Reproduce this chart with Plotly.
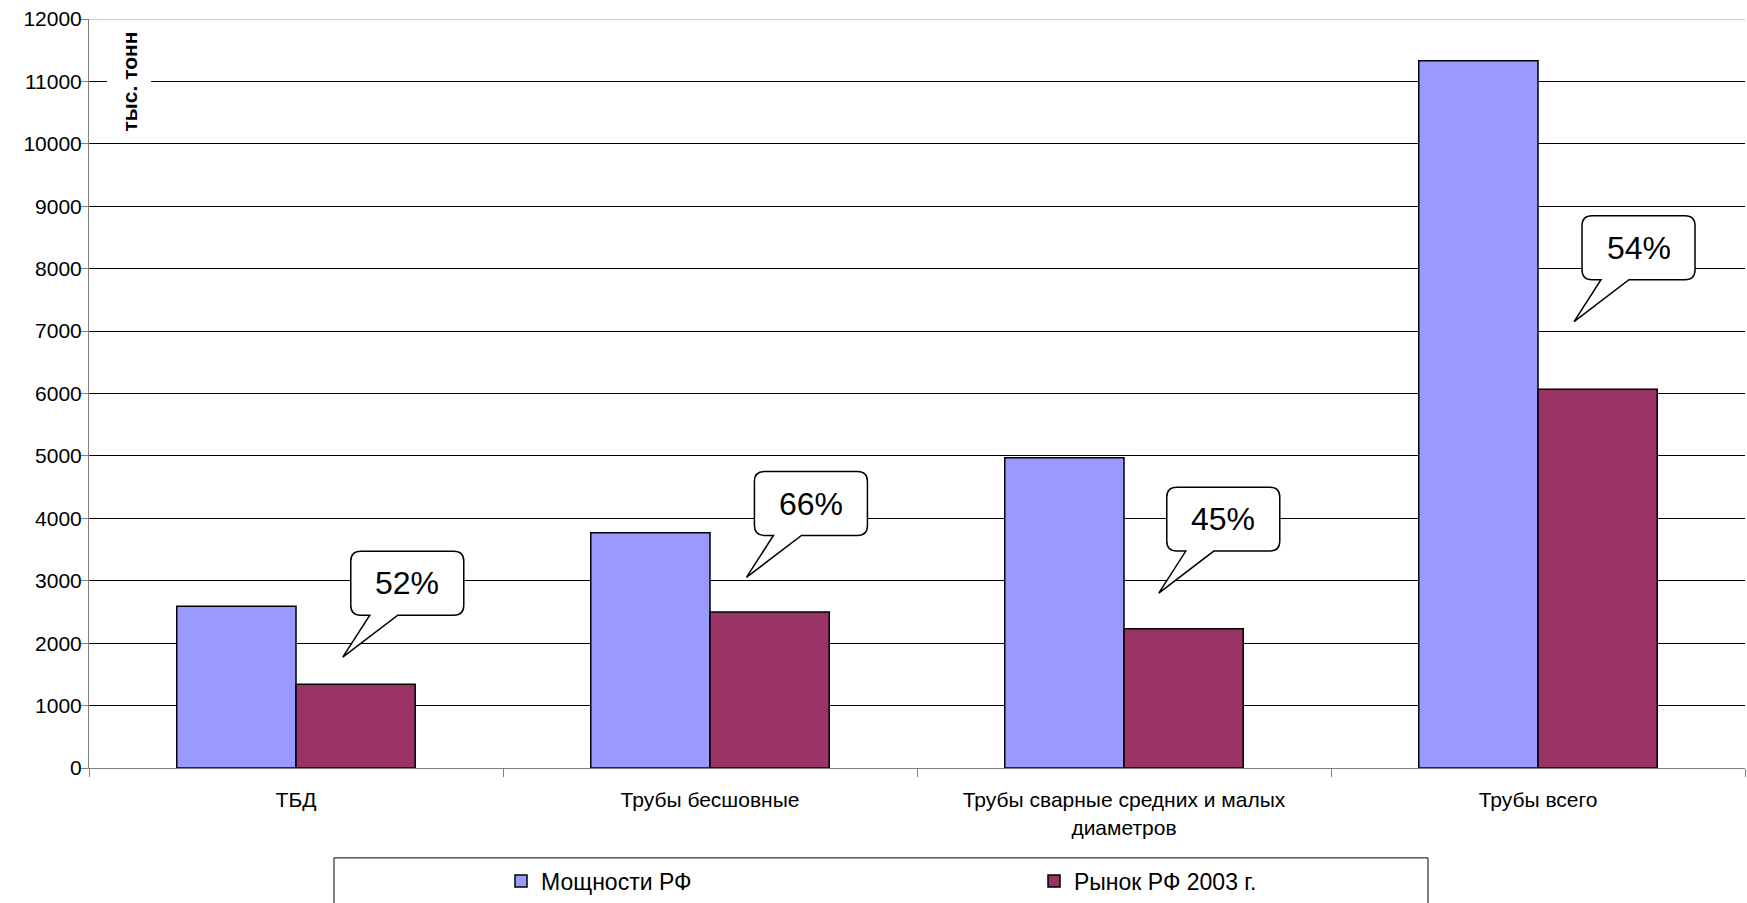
import plotly.graph_objects as go

# ---- data ----
categories = ["ТБД", "Трубы бесшовные", "Трубы сварные средних и малых<br>диаметров", "Трубы всего"]
capacity = [2590, 3770, 4970, 11330]          # Мощности РФ
market = [1340, 2500, 2230, 6070]             # Рынок РФ 2003 г.
series_names = ["Мощности РФ", "Рынок РФ 2003 г."]
y_ticks = list(range(0, 12001, 1000))

# callout tail tip positions (category index offset, data y)
callout_x = [0.113, 1.088, 2.084, 3.087]
callout_y = [1776, 3053, 2803, 7152]
callout_text = [f"{round(m / c * 100)}%" for m, c in zip(market, capacity)]

# ---- layout constants ----
W, H = 1747, 903
ML, MR, MT, MB = 89, 2, 19, 134
PW, PH = W - ML - MR, H - MT - MB
YMAX = 12000
NCAT = len(categories)
ux = NCAT / PW       # category units per px
uy = YMAX / PH       # data units per px

FONT = "Arial, Liberation Sans, sans-serif"
BLUE = "#9999FF"
RED = "#993366"

fig = go.Figure()
fig.add_trace(go.Bar(x=categories, y=capacity, name=series_names[0],
                     marker=dict(color=BLUE, line=dict(color="#000000", width=1.5))))
fig.add_trace(go.Bar(x=categories, y=market, name=series_names[1],
                     marker=dict(color=RED, line=dict(color="#000000", width=1.5))))

shapes = []
annotations = []


def callout_path(tx, ty):
    x0, x1 = tx + 8 * ux, tx + 121 * ux
    y0, y1 = ty + 42 * uy, ty + 106 * uy
    bx0, bx1 = tx + 27 * ux, tx + 55 * ux
    rx, ry = 10 * ux, 10 * uy
    pts = [
        f"M{bx1},{y0}",
        f"L{x1 - rx},{y0}", f"Q{x1},{y0} {x1},{y0 + ry}",
        f"L{x1},{y1 - ry}", f"Q{x1},{y1} {x1 - rx},{y1}",
        f"L{x0 + rx},{y1}", f"Q{x0},{y1} {x0},{y1 - ry}",
        f"L{x0},{y0 + ry}", f"Q{x0},{y0} {x0 + rx},{y0}",
        f"L{bx0},{y0}", f"L{tx},{ty}", "Z",
    ]
    return " ".join(pts), (x0 + x1) / 2, (y0 + y1) / 2


for tx, ty, txt in zip(callout_x, callout_y, callout_text):
    path, cx, cy = callout_path(tx, ty)
    shapes.append(dict(type="path", path=path, xref="x", yref="y",
                       fillcolor="#FFFFFF", line=dict(color="#000000", width=1.5),
                       layer="above"))
    annotations.append(dict(x=cx, y=cy, xref="x", yref="y", text=txt, showarrow=False,
                            font=dict(family=FONT, size=32, color="#000000"),
                            xanchor="center", yanchor="middle"))

# top border line at 12000 (light grey)
shapes.append(dict(type="line", xref="paper", yref="y", x0=0, x1=1, y0=YMAX, y1=YMAX,
                   line=dict(color="#C0C0C0", width=1.5), layer="above"))

# legend frame
shapes.append(dict(type="rect", xref="paper", yref="paper",
                   x0=(334 - ML) / PW, x1=(1428 - ML) / PW,
                   y0=-(H - MT - PH + 40) / PH, y1=-(859 - MT - PH) / PH,
                   line=dict(color="#000000", width=1), fillcolor="rgba(0,0,0,0)"))

# unit label
annotations.append(dict(x=(129 - ML) / PW, y=11000, xref="paper", yref="y",
                        text="<b>тыс. тонн</b>", textangle=-90, showarrow=False,
                        font=dict(family=FONT, size=21, color="#000000"),
                        bgcolor="#FFFFFF", borderpad=10,
                        xanchor="center", yanchor="middle"))

fig.update_layout(
    width=W, height=H,
    margin=dict(l=ML, r=MR, t=MT, b=MB, pad=0),
    paper_bgcolor="#FFFFFF", plot_bgcolor="#FFFFFF",
    barmode="group", bargap=0.424, bargroupgap=0,
    font=dict(family=FONT, size=21, color="#000000"),
    showlegend=True,
    legend=dict(orientation="h", x=(501 - ML) / PW, xanchor="left",
                y=-(881 - MT - PH) / PH, yanchor="middle",
                font=dict(family=FONT, size=23, color="#000000"),
                entrywidth=488, entrywidthmode="pixels",
                bgcolor="rgba(0,0,0,0)", borderwidth=0, traceorder="normal"),
    shapes=shapes,
    annotations=annotations,
)

fig.update_xaxes(
    type="category", showgrid=False, zeroline=False,
    showline=True, linecolor="#808080", linewidth=1,
    ticks="outside", tickson="boundaries", ticklen=8, tickcolor="#808080",
    tickfont=dict(family=FONT, size=21, color="#000000"),
    ticklabelstandoff=13,
)
fig.update_yaxes(
    range=[0, YMAX], tickvals=y_ticks, ticktext=[str(v) for v in y_ticks],
    showgrid=True, gridcolor="#000000", gridwidth=1,
    zeroline=False, showline=True, linecolor="#808080", linewidth=1,
    ticks="outside", ticklen=7, tickcolor="#808080",
    tickfont=dict(family=FONT, size=21, color="#000000"),
    ticklabelstandoff=-5,
)

fig.write_html("out.html",
               config={"displayModeBar": False},
               post_script="document.body.style.margin='0';document.body.style.overflow='hidden';")
